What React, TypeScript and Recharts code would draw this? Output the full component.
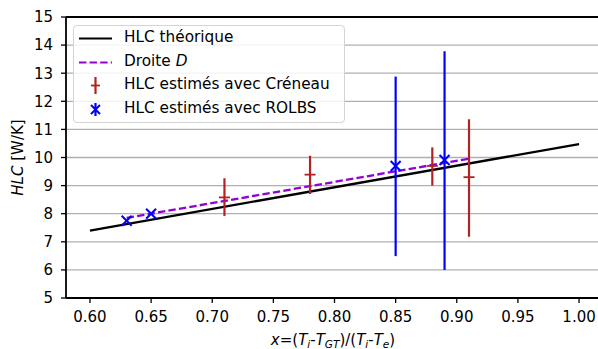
import React from 'react';
import {
  ComposedChart, Line, Scatter, ErrorBar, XAxis, YAxis, CartesianGrid, ReferenceLine, Legend,
} from 'recharts';

// Theoretical HLC line
const theoX = [0.6, 1.0];
const theoY = [7.4, 10.48];
// Droite D
const droiteX = [0.63, 0.91];
const droiteY = [7.85, 9.96];
// HLC estimated with Créneau
const creneauX = [0.71, 0.78, 0.88, 0.91];
const creneauY = [8.58, 9.39, 9.7, 9.3];
const creneauLow = [7.92, 8.7, 9.0, 7.18];
const creneauHigh = [9.26, 10.06, 10.36, 11.36];
// HLC estimated with ROLBS
const rolbsX = [0.63, 0.65, 0.85, 0.89];
const rolbsY = [7.75, 8.0, 9.7, 9.91];
const rolbsLow = [7.75, 8.0, 6.49, 6.0];
const rolbsHigh = [7.75, 8.0, 12.88, 13.78];
// ticks
const xTicks = [0.6, 0.65, 0.7, 0.75, 0.8, 0.85, 0.9, 0.95, 1.0];
const yTicks = [5, 6, 7, 8, 9, 10, 11, 12, 13, 14, 15];

const theoData = theoX.map((x, i) => ({ x, y: theoY[i] }));
const droiteData = droiteX.map((x, i) => ({ x, y: droiteY[i] }));
const creneauData = creneauX.map((x, i) => ({
  x, y: creneauY[i], err: [creneauY[i] - creneauLow[i], creneauHigh[i] - creneauY[i]],
}));
const rolbsData = rolbsX.map((x, i) => ({
  x, y: rolbsY[i], err: [rolbsY[i] - rolbsLow[i], rolbsHigh[i] - rolbsY[i]],
}));

const FONT = 'DejaVu Sans';
const RED = '#b22222';
const BLUE = '#0000ff';
const VIOLET = '#9400d3';

const HTick = (p: any) => (
  <line x1={p.cx - 5.5} x2={p.cx + 5.5} y1={p.cy} y2={p.cy} stroke={RED} strokeWidth={1.8} />
);
const XMark = (p: any) => (
  <g stroke={BLUE} strokeWidth={2}>
    <line x1={p.cx - 5} y1={p.cy - 5} x2={p.cx + 5} y2={p.cy + 5} />
    <line x1={p.cx - 5} y1={p.cy + 5} x2={p.cx + 5} y2={p.cy - 5} />
  </g>
);

const rowStyle = (top: number): React.CSSProperties => ({
  position: 'absolute', left: 0, top: top - 11.5, height: 23, display: 'flex', alignItems: 'center',
  whiteSpace: 'nowrap',
});

const LegendBox = () => (
  <div style={{
    position: 'relative', width: 272, height: 98, border: '1px solid #d4d4d4', borderRadius: 4,
    background: 'rgba(255,255,255,0.85)', boxSizing: 'border-box', fontFamily: FONT, fontSize: 15.3,
    color: '#000', lineHeight: 1,
  }}>
    <div style={rowStyle(12)}>
      <svg width={50} height={23}><line x1={5} x2={38} y1={11.5} y2={11.5} stroke="#000" strokeWidth={2.2} /></svg>
      <span>HLC théorique</span>
    </div>
    <div style={rowStyle(36)}>
      <svg width={50} height={23}><line x1={5} x2={38} y1={11.5} y2={11.5} stroke={VIOLET} strokeWidth={2.2} strokeDasharray="7.4 3.2" /></svg>
      <span>Droite <i>D</i></span>
    </div>
    <div style={rowStyle(59)}>
      <svg width={50} height={23}>
        <line x1={21.5} x2={21.5} y1={3} y2={20} stroke={RED} strokeWidth={2.2} />
        <line x1={17} x2={26} y1={11.5} y2={11.5} stroke={RED} strokeWidth={1.8} />
      </svg>
      <span>HLC estimés avec Créneau</span>
    </div>
    <div style={rowStyle(83)}>
      <svg width={50} height={23}>
        <line x1={21.5} x2={21.5} y1={5} y2={18} stroke={BLUE} strokeWidth={2.2} />
        <line x1={17} x2={26} y1={7} y2={16} stroke={BLUE} strokeWidth={2} />
        <line x1={17} x2={26} y1={16} y2={7} stroke={BLUE} strokeWidth={2} />
      </svg>
      <span>HLC estimés avec ROLBS</span>
    </div>
  </div>
);

const XLabel = () => (
  <text x={333} y={345} textAnchor="middle" fontFamily={FONT} fontSize={15} fill="#000">
    <tspan fontStyle="italic">x</tspan>
    <tspan>=(</tspan>
    <tspan fontStyle="italic">T</tspan>
    <tspan fontStyle="italic" fontSize={10.5} dy={3}>i</tspan>
    <tspan dy={-3}>-</tspan>
    <tspan fontStyle="italic">T</tspan>
    <tspan fontStyle="italic" fontSize={10.5} dy={3}>GT</tspan>
    <tspan dy={-3}>)/(</tspan>
    <tspan fontStyle="italic">T</tspan>
    <tspan fontStyle="italic" fontSize={10.5} dy={3}>i</tspan>
    <tspan dy={-3}>-</tspan>
    <tspan fontStyle="italic">T</tspan>
    <tspan fontStyle="italic" fontSize={10.5} dy={3}>e</tspan>
    <tspan dy={-3}>)</tspan>
  </text>
);

const YLabel = () => (
  <text x={18} y={157.5} transform="rotate(-90 18 157.5)" textAnchor="middle" dominantBaseline="central"
    fontFamily={FONT} fontSize={15} fill="#000">
    <tspan fontStyle="italic">HLC</tspan>
    <tspan> [W/K]</tspan>
  </text>
);

const tickStyle = { fontFamily: FONT, fontSize: 15, fill: '#000' };

export default function App() {
  return (
    <div style={{ position: 'absolute', left: 0, top: 0, width: 598, height: 349, background: '#fff' }}>
      <ComposedChart width={598} height={349} margin={{ top: 17, right: 0, bottom: 0, left: 0 }}>
        <CartesianGrid vertical={false} stroke="#b0b0b0" strokeWidth={1.3} />
        <XAxis
          type="number" dataKey="x" domain={[0.5804, 1.0155]} ticks={xTicks} allowDataOverflow
          tickFormatter={(v: number) => v.toFixed(2)} height={51} tickSize={5} tickMargin={8}
          tick={tickStyle} stroke="#000" axisLine={{ stroke: '#000', strokeWidth: 1.8 }}
          tickLine={{ stroke: '#000', strokeWidth: 1.3 }} label={{ content: () => <XLabel /> }}
        />
        <YAxis
          type="number" domain={[5, 15]} ticks={yTicks} allowDataOverflow width={66} tickSize={5}
          tickMargin={8} tick={tickStyle} axisLine={{ stroke: '#000', strokeWidth: 1.8 }}
          tickLine={{ stroke: '#000', strokeWidth: 1.3 }} label={{ content: () => <YLabel /> }}
        />
        <ReferenceLine y={15} stroke="#000" strokeWidth={1.8} />
        <Line data={theoData} dataKey="y" stroke="#000" strokeWidth={2.3} dot={false}
          isAnimationActive={false} type="linear" />
        <Line data={droiteData} dataKey="y" stroke={VIOLET} strokeWidth={2.3} strokeDasharray="7.4 3.2"
          dot={false} isAnimationActive={false} type="linear" />
        <Scatter data={creneauData} dataKey="y" shape={HTick} isAnimationActive={false}>
          <ErrorBar dataKey="err" direction="y" width={0} stroke={RED} strokeWidth={2.2} isAnimationActive={false} />
        </Scatter>
        <Scatter data={rolbsData} dataKey="y" shape={XMark} isAnimationActive={false}>
          <ErrorBar dataKey="err" direction="y" width={0} stroke={BLUE} strokeWidth={2.2} isAnimationActive={false} />
        </Scatter>
        <Legend layout="horizontal" verticalAlign="middle" align="center" content={() => <LegendBox />}
          wrapperStyle={{ left: 73, top: 25, width: 272, height: 98 }} />
      </ComposedChart>
    </div>
  );
}
